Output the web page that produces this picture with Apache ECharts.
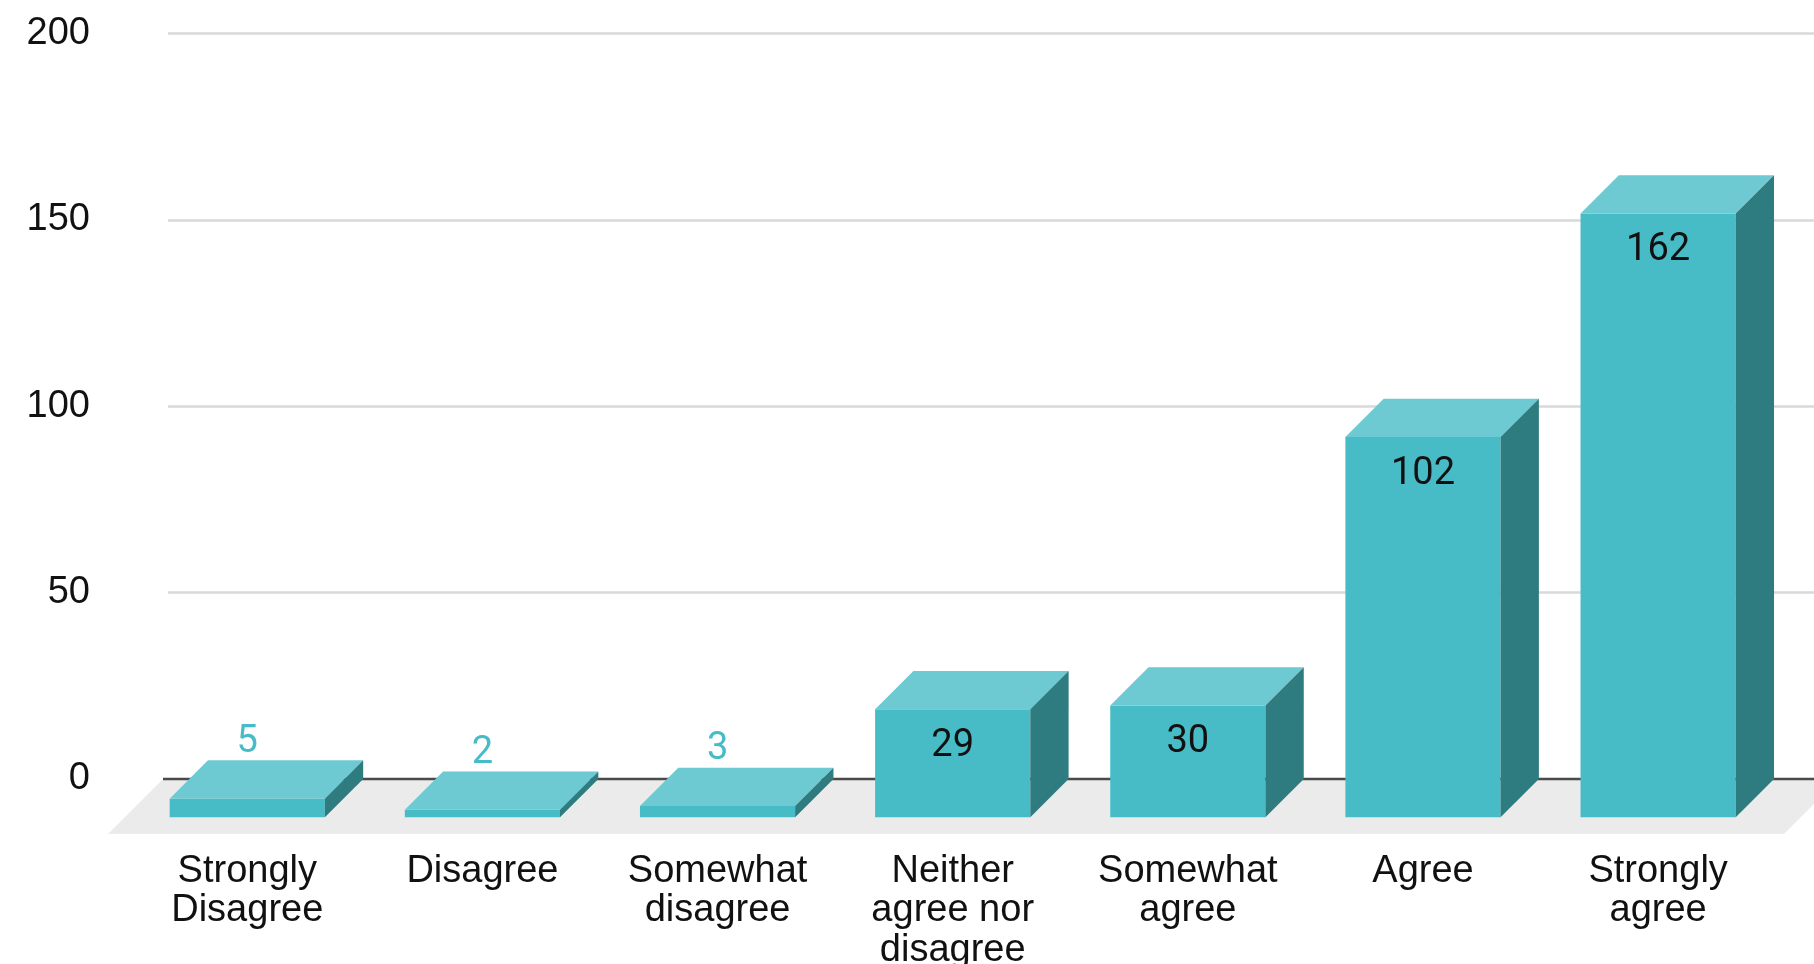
<!DOCTYPE html>
<html>
<head>
<meta charset="utf-8">
<script src="https://cdn.jsdelivr.net/npm/echarts@6/dist/echarts.min.js"></script>
<style>
  html, body { margin: 0; padding: 0; background: #ffffff; }
  #chart { width: 1814px; height: 964px; }
</style>
</head>
<body>
<div id="chart"></div>
<script>
// Survey responses per agreement level
const categories = [
  'Strongly\nDisagree',
  'Disagree',
  'Somewhat\ndisagree',
  'Neither\nagree nor\ndisagree',
  'Somewhat\nagree',
  'Agree',
  'Strongly\nagree'
];
const counts = [5, 2, 3, 29, 30, 102, 162];

// Value axis ticks
const yMin = 0;
const yMax = 200;
const yStep = 50;

// 3D look: depth offset of the bar boxes and the floor
const DEPTH_X = 38.3;
const DEPTH_Y = 38.3;
const FLOOR_DEPTH = 55;
const BAR_RATIO = 0.66;

const FRONT = '#47bbc6';
const TOP = '#6dcad2';
const SIDE = '#2e7b80';

const chart = echarts.init(document.getElementById('chart'), null, { renderer: 'canvas' });

// Grey floor slab with the dark zero line along its back edge
function renderFloor(params, api) {
  const cs = params.coordSys;
  const y0 = api.coord([0, 0])[1];
  const left = cs.x - 5;
  const right = cs.x + cs.width + 25;
  return {
    type: 'group',
    children: [
      {
        type: 'polygon',
        shape: { points: [
          [left, y0], [right, y0],
          [right - FLOOR_DEPTH, y0 + FLOOR_DEPTH], [left - FLOOR_DEPTH, y0 + FLOOR_DEPTH]
        ] },
        style: { fill: '#ebebeb' }
      },
      {
        type: 'line',
        shape: { x1: left, y1: y0, x2: cs.x + cs.width + 10, y2: y0 },
        style: { stroke: '#4a4a4a', lineWidth: 2.5 }
      }
    ]
  };
}

// One box per category: front face, lit top face, shaded side face, value label
function renderBar(params, api) {
  const idx = api.value(0);
  const val = api.value(1);
  const top = api.coord([idx, val]);
  const base = api.coord([idx, 0]);
  const band = api.size([1, 0])[0];
  const w = band * BAR_RATIO;

  const bx = top[0] - w / 2;        // back face left
  const fx = bx - DEPTH_X;          // front face left
  const fTop = top[1] + DEPTH_Y;    // front face top
  const fBot = base[1] + DEPTH_Y;   // front face bottom
  const fCenter = fx + w / 2;

  const children = [
    {
      type: 'rect',
      shape: { x: fx, y: fTop, width: w, height: fBot - fTop },
      style: { fill: FRONT }
    },
    {
      type: 'polygon',
      shape: { points: [[fx, fTop], [fx + w, fTop], [bx + w, top[1]], [bx, top[1]]] },
      style: { fill: TOP }
    },
    {
      type: 'polygon',
      shape: { points: [[fx + w, fTop], [bx + w, top[1]], [bx + w, base[1]], [fx + w, fBot]] },
      style: { fill: SIDE }
    }
  ];

  const inside = (fBot - fTop) > 80;
  children.push({
    type: 'text',
    style: {
      text: String(val),
      x: fCenter,
      y: inside ? fTop + 37 : top[1] - 18,
      align: 'center',
      verticalAlign: 'middle',
      fontFamily: 'Roboto',
      fontSize: 38,
      fill: inside ? '#111111' : FRONT
    }
  });

  return { type: 'group', children };
}

chart.setOption({
  animation: false,
  backgroundColor: '#ffffff',
  grid: {
    left: 168, right: 0, top: 33.5, bottom: 185,
    containLabel: false,
    outerBoundsMode: 'none'
  },
  xAxis: {
    type: 'category',
    data: categories,
    boundaryGap: true,
    axisLine: { show: false },
    axisTick: { show: false },
    axisLabel: {
      interval: 0,
      margin: 73,
      fontFamily: 'Liberation Sans',
      fontSize: 38,
      lineHeight: 39.3,
      color: '#111111',
      align: 'center',
      padding: [0, DEPTH_X * 2, 0, 0]
    }
  },
  yAxis: {
    type: 'value',
    min: yMin,
    max: yMax,
    interval: yStep,
    axisLine: { show: false },
    axisTick: { show: false },
    axisLabel: {
      margin: 78,
      fontFamily: 'Liberation Sans',
      fontSize: 38,
      color: '#111111'
    },
    splitLine: { lineStyle: { color: '#d9d9d9', width: 2.5 } }
  },
  series: [
    {
      type: 'custom',
      z: 1,
      silent: true,
      data: [[0, 0]],
      encode: { x: 0, y: 1 },
      renderItem: renderFloor
    },
    {
      type: 'custom',
      z: 3,
      data: counts.map((v, i) => [i, v]),
      encode: { x: 0, y: 1 },
      renderItem: renderBar
    }
  ]
});
</script>
</body>
</html>
